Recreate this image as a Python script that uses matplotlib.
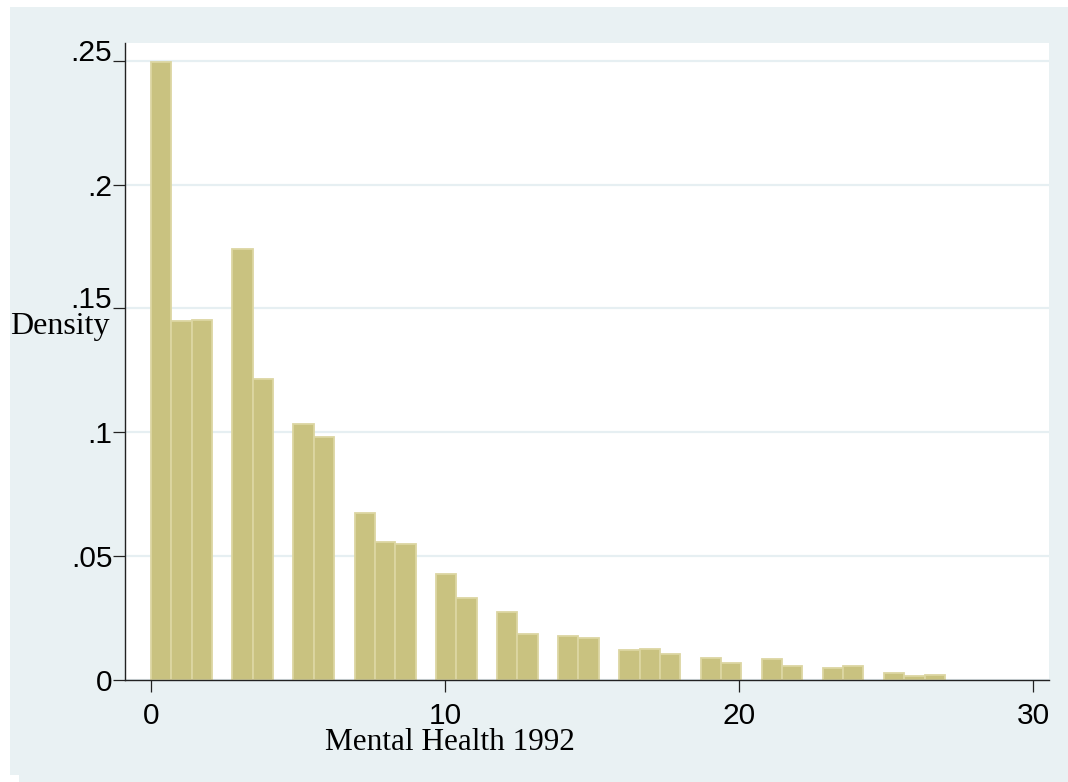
import matplotlib
matplotlib.use("Agg")
import matplotlib.pyplot as plt
from matplotlib.patches import Rectangle

# histogram bins (Stata-style: 39 bins over 0..27), only non-empty bins listed
bin_width = 27 / 39
bin_index = [0, 1, 2, 4, 5, 7, 8, 10, 11, 12, 14, 15, 17, 18, 20, 21,
             23, 24, 25, 27, 28, 30, 31, 33, 34, 36, 37, 38]
density = [0.2495, 0.1449, 0.1453, 0.1741, 0.1214, 0.1032, 0.0980, 0.0673,
           0.0558, 0.0548, 0.0428, 0.0330, 0.0276, 0.0184, 0.0178, 0.0170,
           0.0121, 0.0124, 0.0104, 0.0088, 0.0067, 0.0083, 0.0055, 0.0047,
           0.0055, 0.0027, 0.0015, 0.0020]

x_ticks = [0, 10, 20, 30]
y_ticks = [0, 0.05, 0.1, 0.15, 0.2, 0.25]
y_tick_labels = ["0", ".05", ".1", ".15", ".2", ".25"]

W, H = 1068, 782
bg = "#e9f1f3"
bar_face = "#c9c280"
bar_edge = "#dcd6a2"

fig = plt.figure(figsize=(W / 100, H / 100), dpi=100, facecolor="white")

# outer light background like Stata's graph region
fig.patches.append(Rectangle((10 / W, 1 - 775 / H), (W - 10) / W, (775 - 7) / H,
                             transform=fig.transFigure, facecolor=bg,
                             edgecolor="none", zorder=-10))
fig.patches.append(Rectangle((19 / W, 0), (W - 19) / W, 8 / H,
                             transform=fig.transFigure, facecolor=bg,
                             edgecolor="none", zorder=-10))

ax = fig.add_axes([125 / W, 1 - 680 / H, (1049 - 125) / W, (680 - 43) / H])
ax.set_facecolor("white")

lefts = [i * bin_width for i in bin_index]
ax.bar(lefts, density, width=bin_width, align="edge", color=bar_face,
       edgecolor=bar_edge, linewidth=1.3, zorder=3)

ax.set_xlim(-0.884, 30.54)
ax.set_ylim(0, 0.2572)

ax.set_yticks(y_ticks)
ax.set_yticklabels(y_tick_labels)
ax.set_xticks(x_ticks)
ax.yaxis.grid(True, color="#e6eff2", linewidth=1.6, zorder=0)
ax.set_axisbelow(True)

for s in ["top", "right"]:
    ax.spines[s].set_visible(False)
for s in ["left", "bottom"]:
    ax.spines[s].set_color("#222222")
    ax.spines[s].set_linewidth(1.0)
    ax.spines[s].set_zorder(5)

ax.tick_params(axis="both", direction="out", length=8.6, width=0.9,
               color="#222222", labelsize=21.5, labelcolor="black")
ax.tick_params(axis="x", pad=7)
ax.tick_params(axis="y", pad=0.5)
for lab in ax.get_xticklabels() + ax.get_yticklabels():
    lab.set_fontfamily("Liberation Sans")
for lab in ax.get_yticklabels():
    if lab.get_text() in (".25", ".15"):
        lab.set_verticalalignment("baseline")

fig.text(10 / W, 1 - 327 / H, "Density", ha="left", va="center",
         fontsize=23, family="Liberation Serif")
fig.text(450 / W, 1 - 743 / H, "Mental Health 1992", ha="center", va="center",
         fontsize=22.5, family="Liberation Serif")

fig.savefig("out.png", dpi=100, facecolor="white")
